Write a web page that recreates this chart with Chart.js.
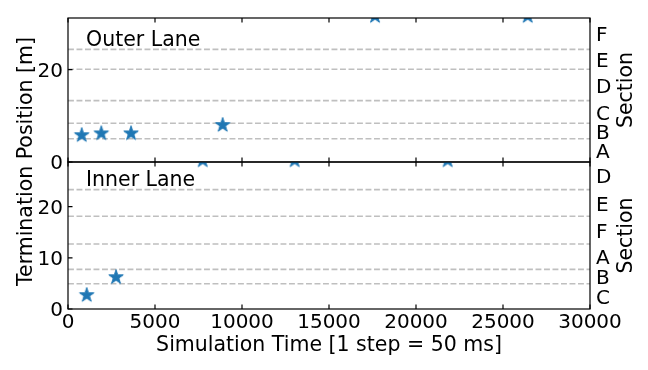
<!DOCTYPE html>
<html lang="en">
<head>
<meta charset="UTF-8">
<title>Termination position per lane</title>
<style>
  body { margin: 0; background: #fff; }
  .wrap { position: relative; width: 648px; height: 370px; }
  .wrap canvas { position: absolute; left: 0; top: 0; }
</style>
</head>
<body>
<div class="wrap">
  <canvas id="outer" width="648" height="370"></canvas>
  <canvas id="inner" width="648" height="370"></canvas>
</div>
<script src="https://cdn.jsdelivr.net/npm/chart.js"></script>
<script>
const xTicks = [0, 5000, 10000, 15000, 20000, 25000, 30000];

// outer lane (top panel)
const outerTimes = [787, 1914, 3621, 8890, 17644, 26420];
const outerPos = [5.8, 6.2, 6.2, 8.0, 31.6, 31.6];
const outerBounds = [5.05, 8.4, 13.3, 20.1, 24.4];
const outerSections = ['A', 'B', 'C', 'D', 'E', 'F'];
const outerTicks = [0, 20];
const outerMax = 31.2;

// inner lane (bottom panel)
const innerTimes = [1075, 2759, 7741, 13028, 21821];
const innerPos = [2.7, 6.2, 29.0, 29.0, 29.0];
const innerBounds = [4.93, 7.74, 12.7, 18.1, 23.3];
const innerSections = ['C', 'B', 'A', 'F', 'E', 'D'];
const innerTicks = [0, 10, 20];
const innerMax = 28.7;

const blue = '#1f77b4';
const labelFont = '20.5px "DejaVu Sans"';
Chart.defaults.font.family = '"DejaVu Sans"';
Chart.defaults.font.size = 20;
Chart.defaults.color = '#000';

// filled five point star, like the matplotlib '*' marker
function starImage(r, color) {
  const size = Math.ceil(r * 2 + 2);
  const c = document.createElement('canvas');
  c.width = c.height = size;
  const g = c.getContext('2d');
  g.translate(size / 2, size / 2);
  g.beginPath();
  for (let i = 0; i < 10; i++) {
    const rad = i % 2 ? r * 0.382 : r;
    const a = -Math.PI / 2 + i * Math.PI / 5;
    g.lineTo(rad * Math.cos(a), rad * Math.sin(a));
  }
  g.closePath();
  g.fillStyle = color;
  g.strokeStyle = color;
  g.lineWidth = 1;
  g.fill();
  g.stroke();
  return c;
}
const star = starImage(7.6, blue);

const panelDecor = {
  id: 'panelDecor',
  afterDatasetsDraw(chart, args, opts) {
    const { ctx, chartArea: a, scales } = chart;
    ctx.save();
    ctx.strokeStyle = '#000';
    ctx.lineWidth = 1.2;
    ctx.beginPath();
    xTicks.forEach(v => {
      const px = scales.x.getPixelForValue(v);
      ctx.moveTo(px, a.top); ctx.lineTo(px, a.top + 4.5);
      ctx.moveTo(px, a.bottom); ctx.lineTo(px, a.bottom - 4.5);
    });
    opts.yTicks.forEach(v => {
      const py = scales.y.getPixelForValue(v);
      ctx.moveTo(a.left, py); ctx.lineTo(a.left + 4.5, py);
    });
    ctx.stroke();
    ctx.strokeRect(a.left, a.top, a.right - a.left, a.bottom - a.top);

    ctx.fillStyle = '#000';
    ctx.font = labelFont;
    ctx.textBaseline = 'alphabetic';
    ctx.textAlign = 'left';
    ctx.fillText(opts.label, a.left + 18, a.top + opts.labelDy);

    ctx.translate(a.right + 41.5, (a.top + a.bottom) / 2);
    ctx.rotate(-Math.PI / 2);
    ctx.textAlign = 'center';
    ctx.fillText('Section', 0, 0);
    ctx.restore();

    if (opts.yTitle) {
      ctx.save();
      ctx.fillStyle = '#000';
      ctx.font = labelFont;
      ctx.textAlign = 'center';
      ctx.textBaseline = 'alphabetic';
      ctx.translate(31.5, 161.5);
      ctx.rotate(-Math.PI / 2);
      ctx.fillText(opts.yTitle, 0, 0);
      ctx.restore();
    }
  }
};

function makePanel(id, times, pos, bounds, sections, yTicks, yMax, showX, padding, decor) {
  const edges = [0, ...bounds, yMax];
  const mids = sections.map((s, i) => (edges[i] + edges[i + 1]) / 2);

  const lines = bounds.map(b => ({
    type: 'scatter',
    showLine: true,
    data: [{ x: 0, y: b }, { x: 30000, y: b }],
    borderColor: '#bfbfbf',
    borderWidth: 1.6,
    borderDash: [5.9, 2.6],
    pointRadius: 0,
    order: 1
  }));

  return new Chart(document.getElementById(id), {
    type: 'scatter',
    data: {
      datasets: [{
        data: times.map((t, i) => ({ x: t, y: pos[i] })),
        pointStyle: star,
        pointRadius: 7,
        pointHoverRadius: 7,
        order: 0
      }, ...lines]
    },
    options: {
      responsive: false,
      animation: false,
      events: [],
      layout: { padding: padding },
      plugins: {
        legend: { display: false },
        tooltip: { enabled: false },
        panelDecor: decor
      },
      scales: {
        x: {
          type: 'linear',
          min: 0,
          max: 30000,
          display: showX,
          afterBuildTicks: s => { s.ticks = xTicks.map(v => ({ value: v })); },
          afterFit: s => { s.height = showX ? 61 : 0; },
          grid: { display: false, drawTicks: false },
          border: { display: false },
          ticks: { padding: 2, maxRotation: 0, autoSkip: false, callback: v => String(v) },
          title: {
            display: true,
            text: 'Simulation Time [1 step = 50 ms]',
            font: { size: 20.5 },
            padding: { top: 0, bottom: 12 }
          }
        },
        y: {
          type: 'linear',
          position: 'left',
          min: 0,
          max: yMax,
          afterBuildTicks: s => { s.ticks = yTicks.map(v => ({ value: v })); },
          afterFit: s => { s.width = 68; },
          grid: { display: false, drawTicks: false },
          border: { display: false },
          ticks: { padding: 5, labelOffset: 2, autoSkip: false, callback: v => String(v) }
        },
        y2: {
          type: 'linear',
          position: 'right',
          min: 0,
          max: yMax,
          afterBuildTicks: s => { s.ticks = mids.map(v => ({ value: v })); },
          afterFit: s => { s.width = 58; },
          grid: { display: false, drawTicks: false },
          border: { display: false },
          ticks: { padding: 6, labelOffset: 2.4, autoSkip: false, callback: (v, i) => sections[i] }
        }
      }
    },
    plugins: [panelDecor]
  });
}

makePanel('outer', outerTimes, outerPos, outerBounds, outerSections, outerTicks, outerMax, false,
  { top: 14, bottom: 208, left: 0, right: 0 },
  { yTicks: outerTicks, label: 'Outer Lane', labelDy: 27.5 });

makePanel('inner', innerTimes, innerPos, innerBounds, innerSections, innerTicks, innerMax, true,
  { top: 162, bottom: 0, left: 0, right: 0 },
  { yTicks: innerTicks, label: 'Inner Lane', labelDy: 24, yTitle: 'Termination Position [m]' });
</script>
</body>
</html>
